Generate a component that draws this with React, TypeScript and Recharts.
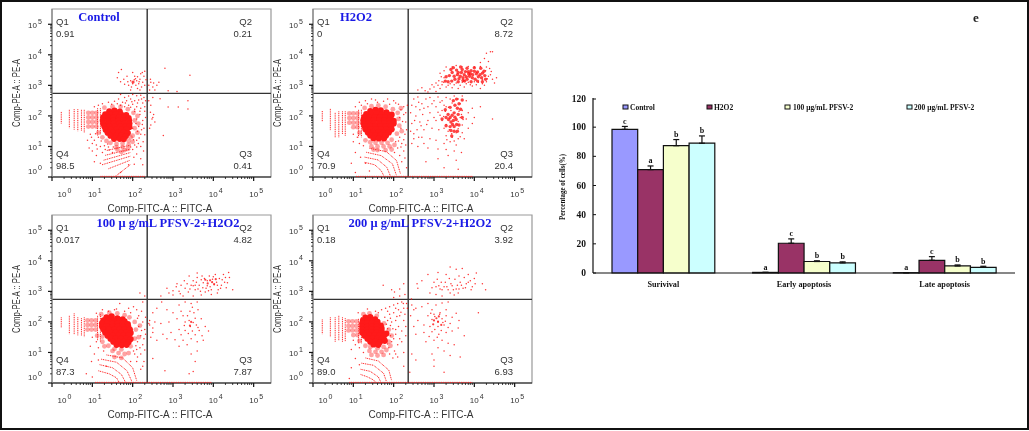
import { BarChart, Bar, ErrorBar, LabelList, XAxis, YAxis, ScatterChart, Scatter, ReferenceLine, ReferenceArea } from 'recharts';

type Pt = [number, number];

// bar chart data
const groups = ['Surivival', 'Early apoptosis', 'Late apoptosis'];
const legendNames = ['Control', 'H2O2', '100 μg/mL PFSV-2', '200 μg/mL PFSV-2'];
const barColors = ['#9999ff', '#993366', '#f6ffcc', '#ccffff'];
const controlValues = [98.5, 0.41, 0.21];
const h2o2Values = [70.9, 20.4, 8.72];
const p100Values = [87.3, 7.87, 4.82];
const p200Values = [89.0, 6.93, 3.92];
const controlErr = [2, 0, 0];
const h2o2Err = [2.5, 3, 2.5];
const p100Err = [4.2, 0.5, 0.7];
const p200Err = [5, 0.7, 0.7];
const controlLetters = ['c', 'a', 'a'];
const h2o2Letters = ['a', 'c', 'c'];
const p100Letters = ['b', 'b', 'b'];
const p200Letters = ['b', 'b', 'b'];
const yTicksBar = [0, 20, 40, 60, 80, 100, 120];

// flow panels, everything in log10 units
const logDecades = [0, 1, 2, 3, 4, 5];
const minorOffsets = [0.3, 0.48, 0.6, 0.7, 0.78, 0.85, 0.9, 0.95];
const gateX = 2.36;
const gateY = 2.74;

const controlCore: Pt[] = [[1.42,2.15],[1.55,2.17],[1.68,2.14],[1.32,2.05],[1.45,2.05],[1.58,2.06],[1.71,2.05],[1.84,2.03],[1.27,1.95],[1.4,1.95],[1.53,1.95],[1.66,1.95],[1.79,1.95],[1.9,1.93],[1.26,1.85],[1.39,1.85],[1.52,1.85],[1.65,1.85],[1.78,1.85],[1.91,1.85],[1.27,1.75],[1.4,1.75],[1.53,1.75],[1.66,1.75],[1.79,1.75],[1.92,1.75],[1.3,1.65],[1.43,1.65],[1.56,1.65],[1.69,1.65],[1.82,1.65],[1.92,1.64],[1.33,1.55],[1.46,1.55],[1.59,1.55],[1.72,1.55],[1.85,1.55],[1.38,1.45],[1.51,1.45],[1.64,1.45],[1.77,1.45],[1.88,1.44],[1.45,1.35],[1.58,1.35],[1.71,1.35],[1.83,1.34],[1.54,1.25],[1.68,1.25],[1.78,1.24]];
const controlHalo: Pt[] = [[0.9,2.1],[1.0,2.1],[1.1,2.1],[0.9,1.95],[1.0,1.95],[1.1,1.95],[0.9,1.8],[1.0,1.8],[1.1,1.8],[0.9,1.65],[1.0,1.65],[1.1,1.65],[1.15,1.45],[1.25,1.3],[1.35,1.18],[1.45,1.12],[1.6,1.08],[1.75,1.1],[1.9,1.18],[2.0,1.35],[2.05,1.6],[2.05,1.85],[2.02,2.1],[1.6,0.98],[1.75,0.98],[1.62,0.9],[1.8,0.88],[1.3,2.27],[1.5,2.3],[1.7,2.3],[1.88,2.22],[1.95,1.3],[2.12,1.45],[2.14,1.75],[2.12,2.0],[1.9,1.05],[2.0,1.15],[1.72,0.82],[1.88,0.92]];
const controlPatch: Pt[] = [[2.01,3.11]];
const controlDots: Pt[] = [[1.62,3.25],[1.65,3.42],[1.7,3.12],[1.78,3.2],[1.8,3.04],[1.86,3.3],[1.9,3.0],[1.95,3.15],[2.0,3.05],[2.04,3.18],[2.05,3.3],[2.08,3.0],[2.1,3.15],[2.12,3.28],[2.15,3.05],[2.18,3.2],[2.2,3.38],[2.22,2.95],[2.25,3.1],[2.28,3.3],[2.3,3.0],[2.12,2.9],[2.18,2.85],[1.95,2.85],[1.72,3.52],[2.0,3.42],[2.3,3.46],[2.33,3.18],[2.16,3.12],[2.07,3.22],[1.97,2.95],[1.88,3.12],[2.24,3.42],
  [2.4,3.0],[2.45,3.1],[2.5,2.95],[2.55,2.85],[2.6,3.0],[2.65,3.1],[2.8,3.56],[3.42,3.33],[2.88,2.82],[3.1,2.8],[2.42,2.85],[2.44,3.2],[2.52,3.08],
  [2.5,1.95],[2.52,2.05],[2.55,1.8],[2.45,1.7],[2.48,1.9],[2.42,1.6],[2.68,2.56],[2.88,2.29],[3.13,2.29],[3.37,2.5],[3.37,2.23],[2.76,1.36],[2.45,2.35],[2.5,2.6],[2.44,2.12],[2.4,2.5],
  [1.7,2.7],[1.8,2.6],[1.9,2.65],[2.0,2.7],[2.1,2.66],[2.2,2.68],[2.28,2.6],[1.75,2.45],[1.85,2.5],[1.95,2.55],[2.05,2.5],[2.15,2.52],[2.25,2.42],[1.8,2.3],[1.9,2.35],[2.0,2.38],[2.1,2.3],[2.2,2.25],[2.3,2.3],[1.4,2.45],[1.55,2.48],[1.7,2.35],[1.65,2.55],[1.82,2.42],[1.98,2.46],[2.12,2.42],[2.22,2.55],[2.32,2.5],[2.3,2.15],[2.18,2.15],[2.05,2.22],[1.95,2.28],[1.62,2.4],[1.48,2.38],[1.25,2.4],[1.15,2.35],[1.05,2.3],
  [2.05,2.15],[2.1,1.9],[2.15,1.65],[2.2,1.4],[2.1,1.2],[2.05,1.05],[2.2,1.0],[2.25,1.85],[2.12,1.5],[2.0,0.9],[2.1,0.75],[2.2,0.6],[2.18,2.05],[2.28,1.6],[2.08,1.75],[2.02,1.22],[2.16,1.28],[2.26,1.15],[2.0,1.6],[2.22,1.55],[2.3,1.38],[2.32,1.95],[2.24,1.72],[2.14,1.1],[1.95,0.98],[2.1,0.98],[2.27,0.85],[2.03,0.65],[2.25,0.4],[2.04,0.42],
  [0.98,1.3],[1.05,1.2],[1.1,1.05],[1.2,1.0],[1.0,0.85],[1.1,0.7],[1.25,0.8],[0.95,1.4],[1.15,1.3],[1.3,1.02],[1.32,0.9],[1.05,0.5],[1.2,0.45],[1.0,1.1],[1.4,0.98],[1.7,0.15],[1.9,0.4],[1.08,1.42],[1.22,1.18],[1.12,0.92],[1.38,1.08],[1.42,0.88],[1.52,0.98],[1.5,0.8],[0.88,1.2],[0.92,0.95]];
const controlTraces: Pt[][] = [
  [[0.23,2.13],[0.23,1.75]],[[0.43,2.2],[0.43,1.6]],[[0.55,2.22],[0.55,1.55]],[[0.64,2.22],[0.64,1.5]],[[0.73,2.2],[0.73,1.5]],[[0.8,2.2],[0.8,1.45]],[[1.13,2.25],[1.13,1.35]],[[1.2,2.25],[1.2,1.4]],
  [[1.36,0.87],[1.94,1.04]],[[1.32,0.71],[1.94,0.91]],[[1.28,0.55],[1.94,0.8]],[[1.24,0.4],[1.94,0.68]],[[1.4,0.27],[1.94,0.55]],[[1.57,0.02],[1.94,0.4]],[[1.2,0.02],[2.3,0.02]],
];

const h2o2Core: Pt[] = [[1.42,2.16],[1.55,2.2],[1.68,2.18],[1.82,2.12],[1.32,2.06],[1.45,2.06],[1.58,2.08],[1.71,2.06],[1.84,2.06],[1.95,2.04],[1.27,1.96],[1.4,1.96],[1.53,1.96],[1.66,1.96],[1.79,1.96],[1.92,1.96],[1.25,1.86],[1.38,1.86],[1.51,1.86],[1.64,1.86],[1.77,1.86],[1.9,1.86],[2.0,1.84],[1.25,1.76],[1.38,1.76],[1.51,1.76],[1.64,1.76],[1.77,1.76],[1.9,1.76],[2.0,1.75],[1.28,1.66],[1.41,1.66],[1.54,1.66],[1.67,1.66],[1.8,1.66],[1.93,1.66],[1.3,1.56],[1.43,1.56],[1.56,1.56],[1.69,1.56],[1.82,1.56],[1.95,1.56],[1.36,1.46],[1.49,1.46],[1.62,1.46],[1.75,1.46],[1.88,1.46],[1.42,1.36],[1.55,1.36],[1.68,1.36],[1.81,1.36],[1.5,1.27],[1.63,1.26],[1.76,1.26]];
const h2o2Halo: Pt[] = [[0.9,2.08],[1.0,2.08],[1.1,2.08],[0.9,1.93],[1.0,1.93],[1.1,1.93],[0.9,1.78],[1.0,1.78],[1.1,1.78],[1.0,1.63],[1.1,1.63],[1.15,1.45],[2.1,2.1],[2.12,1.9],[2.14,1.68],[2.08,1.42],[1.95,1.22],[1.3,1.2],[1.42,1.14],[1.55,1.12],[1.7,1.12],[1.85,1.12],[1.45,1.0],[1.6,1.0],[1.75,1.0],[1.9,1.0],[1.6,0.88],[1.8,0.88],[1.95,0.9],[2.02,1.05],[1.45,2.32],[1.62,2.34],[1.8,2.3],[1.98,2.22],[1.28,2.26],[2.18,2.25],[2.2,1.5],[1.5,0.9]];
const h2o2Patch: Pt[] = [[3.45,3.42],[3.6,3.42],[3.75,3.35],[3.9,3.38],[4.05,3.38],[4.2,3.4],[3.5,3.3],[3.65,3.3],[3.8,3.28],[3.95,3.25],[4.1,3.28],[3.85,3.45],[3.35,3.12],[3.38,3.32],[3.42,3.52],[3.52,3.2],[3.56,3.5],[3.62,3.22],[3.68,3.42],[3.72,3.25],[3.7,3.52],[3.78,3.45],[3.82,3.2],[3.88,3.3],[3.92,3.48],[3.96,3.35],[4.0,3.46],[4.02,3.2],[4.08,3.44],[4.14,3.35],[4.18,3.25],[4.24,3.46],[4.26,3.32],[3.3,3.28],[3.58,3.35],[3.86,3.38],[3.44,3.14],[3.6,3.12],[3.76,3.14],[3.92,3.12],[4.08,3.14],[4.2,3.12],[3.28,3.14],[3.48,3.58],[3.66,3.6],[3.82,3.56],[4.0,3.58],[4.16,3.56],[3.72,3.16],[4.28,3.2],
  [3.5,2.1],[3.4,1.95],[3.55,1.88],[3.42,1.8],[3.5,1.65],[3.58,2.25],[3.35,2.05],[3.45,2.02],[3.52,1.96],[3.48,1.85],[3.36,1.88],[3.6,2.05],[3.46,1.72],[3.56,1.72],[3.4,1.65],[3.62,2.4],[3.52,2.35],[3.48,2.5],[3.3,1.95],[3.5,1.5],[3.28,2.2],[3.4,2.28],[3.66,2.22],[3.7,1.95],[3.62,1.7],[3.3,1.68],[3.2,1.9],[3.42,1.52],[3.58,1.5],[3.44,1.34],[3.56,2.55],[3.7,2.52]];
const h2o2Dots: Pt[] = [[3.3,3.6],[3.45,3.6],[3.55,3.65],[3.7,3.6],[3.85,3.62],[4.0,3.6],[4.15,3.62],[4.3,3.6],[4.42,3.45],[4.35,3.3],[4.45,3.2],[4.3,3.12],[4.2,3.18],[4.1,3.1],[4.0,3.12],[3.85,3.1],[3.7,3.1],[3.55,3.08],[3.4,3.05],[3.25,3.25],[3.2,3.12],[3.1,3.0],[3.0,2.95],[2.9,2.88],[3.15,2.9],[3.3,2.95],[3.45,2.92],[3.6,2.9],[3.75,2.95],[3.95,2.98],[4.15,2.9],[4.25,3.0],[4.5,3.08],[4.55,3.25],[4.38,3.55],[4.3,4.05],[4.4,4.1],[4.45,4.1],[4.25,3.88],[4.35,3.78],[4.15,3.75],[3.15,3.4],[3.25,3.48],[2.78,2.82],[2.85,2.78],[3.05,2.8],[3.12,3.15],[3.05,3.08],[2.95,3.02],[3.2,3.02],[3.35,3.0],[3.5,3.02],[3.65,3.0],[3.8,3.05],[3.9,3.02],[4.05,3.02],[4.2,3.05],[4.32,3.22],[4.4,3.35],[4.28,3.48],[3.18,3.28],[3.24,3.1],[2.7,2.92],[2.6,2.85],
  [2.5,2.55],[2.6,2.62],[2.7,2.4],[2.8,2.55],[2.9,2.6],[3.0,2.5],[3.1,2.62],[3.2,2.5],[3.3,2.6],[3.4,2.55],[3.5,2.65],[3.6,2.55],[3.7,2.65],[3.8,2.5],[3.65,2.4],[3.45,2.42],[3.25,2.35],[3.05,2.3],[2.85,2.3],[2.65,2.2],[2.45,2.35],[2.42,2.1],[2.55,2.0],[2.72,2.05],[2.9,2.1],[3.1,2.12],[3.2,2.18],[3.3,2.3],[3.7,2.18],[3.85,2.1],[3.95,2.25],[4.0,1.95],[3.8,1.9],[3.65,1.95],[3.7,1.7],[3.85,1.6],[3.95,1.75],[3.2,1.85],[3.05,1.85],[2.85,1.85],[2.65,1.8],[2.45,1.75],[2.42,1.5],[2.58,1.55],[2.75,1.55],[2.95,1.6],[3.12,1.55],[3.25,1.6],[3.35,1.5],[3.55,1.45],[3.7,1.45],[3.3,1.35],[3.45,1.3],[3.6,1.25],[3.4,1.15],[3.25,1.1],[3.55,1.05],[2.5,1.25],[2.7,1.3],[2.9,1.25],[3.05,1.2],[2.6,1.0],[2.85,0.95],[3.1,0.92],[3.3,0.9],[3.5,0.85],[3.68,0.8],[3.35,0.7],[3.55,0.55],[3.1,0.6],[2.8,0.5],[3.25,0.3],[3.6,0.25],[4.45,1.9],[4.15,2.3],[3.28,2.15],[3.36,2.28],[3.42,2.18],[3.62,2.15],[3.68,2.05],[3.72,1.88],[3.6,1.82],[3.3,1.72],[3.24,1.98],[3.15,2.02],[3.38,1.55],[3.44,1.42],[3.6,1.58],[3.65,1.32],[3.32,1.22],[3.5,1.18],[3.75,1.25],[2.55,2.3],[2.62,2.45],[2.75,2.25],[2.95,2.4],[3.15,2.45],[2.52,1.85],[2.68,1.68],[2.82,1.72],[3.0,1.95],[2.5,1.42],[2.62,1.3],[2.45,1.1],[2.75,1.1],
  [1.05,2.3],[1.2,2.35],[1.35,2.4],[1.45,2.55],[1.6,2.45],[1.75,2.48],[1.9,2.38],[2.05,2.42],[2.18,2.2],[2.25,2.05],[2.15,1.95],[2.3,1.8],[2.18,1.6],[2.28,1.4],[2.15,1.3],[2.05,1.15],[2.2,1.1],[2.1,0.95],[2.25,0.85],[2.2,0.5],[2.32,0.3],[1.0,1.4],[1.1,1.3],[1.0,1.15],[1.15,1.1],[1.25,1.02],[1.05,0.8],[1.18,0.65],[1.3,0.45],[0.95,0.45],[1.05,0.15],[1.4,0.2],[2.25,2.3],[2.3,2.1],[2.12,2.38],[2.0,2.5],[1.55,2.52],[1.85,2.55],[1.3,2.5],[1.15,2.45],[2.22,1.82],[2.32,1.55],[2.25,1.22],[2.12,1.18],[2.18,0.98],[2.02,0.8],[2.15,0.7],[2.28,0.62],[2.3,1.05],[2.34,2.35]];
const h2o2Traces: Pt[][] = [
  [[0.23,2.16],[0.23,1.8]],[[0.43,2.23],[0.43,1.52]],[[0.55,2.1],[0.55,1.3]],[[0.64,2.15],[0.64,1.3]],[[0.73,2.15],[0.73,1.4]],[[0.8,2.15],[0.8,1.35]],[[1.13,2.2],[1.13,1.3]],[[1.2,2.2],[1.2,1.3]],
  [[1.28,0.48],[1.53,0.4],[1.69,0.21],[1.76,0.03]],[[1.28,0.65],[1.61,0.56],[1.83,0.32],[1.92,0.03]],[[1.32,0.81],[1.69,0.7],[1.97,0.43],[2.07,0.05]],[[1.4,0.94],[1.82,0.83],[2.07,0.54],[2.17,0.1]],[[1.07,0.02],[3.97,0.02]],
];

const p100Core: Pt[] = [[1.35,2.15],[1.48,2.18],[1.62,2.12],[1.75,2.08],[1.28,2.05],[1.41,2.05],[1.54,2.05],[1.67,2.05],[1.8,2.02],[1.24,1.95],[1.37,1.95],[1.5,1.95],[1.63,1.95],[1.76,1.95],[1.88,1.93],[1.24,1.85],[1.37,1.85],[1.5,1.85],[1.63,1.85],[1.76,1.85],[1.89,1.85],[1.28,1.75],[1.41,1.75],[1.54,1.75],[1.67,1.75],[1.8,1.75],[1.93,1.75],[1.32,1.65],[1.45,1.65],[1.58,1.65],[1.71,1.65],[1.84,1.65],[1.95,1.64],[1.38,1.55],[1.51,1.55],[1.64,1.55],[1.77,1.55],[1.9,1.55],[1.45,1.45],[1.58,1.45],[1.71,1.45],[1.84,1.45],[1.95,1.44],[1.52,1.35],[1.65,1.35],[1.78,1.35],[1.9,1.34],[1.6,1.25],[1.73,1.24],[1.85,1.25]];
const p100Halo: Pt[] = [[0.88,2.05],[0.98,2.05],[1.08,2.05],[0.88,1.9],[0.98,1.9],[1.08,1.9],[0.88,1.75],[0.98,1.75],[1.08,1.75],[1.12,1.55],[1.25,1.35],[1.4,1.22],[1.55,1.12],[1.72,1.1],[1.95,1.2],[2.05,1.45],[2.08,1.75],[2.05,2.0],[1.92,2.15],[1.5,1.05],[1.65,0.98],[1.8,0.95],[1.55,0.85],[1.72,0.82],[1.9,0.98],[1.3,1.2],[1.22,2.25],[1.42,2.3],[1.62,2.28],[1.8,2.22],[2.15,1.5],[2.18,1.88],[1.25,1.52]];
const p100Patch: Pt[] = [[3.97,3.3],[3.92,3.36],[4.02,3.24],[3.86,3.26],[4.06,3.4],[3.8,3.38],[3.45,2.0],[3.42,1.88]];
const p100Dots: Pt[] = [[2.9,2.95],[3.0,3.02],[3.08,3.15],[3.2,3.2],[3.3,3.1],[3.38,2.98],[3.45,3.2],[3.5,3.35],[3.55,3.05],[3.6,3.45],[3.65,3.2],[3.72,3.5],[3.75,3.28],[3.8,2.98],[3.85,3.35],[3.9,3.5],[3.92,3.15],[3.98,3.4],[4.02,3.22],[4.05,3.55],[4.08,3.3],[4.12,3.05],[4.15,3.42],[4.2,3.2],[4.25,3.55],[4.28,3.3],[4.32,3.12],[4.38,3.62],[4.4,3.45],[4.1,2.95],[3.95,2.9],[3.7,2.88],[3.5,2.85],[3.25,2.85],[3.0,2.88],[2.7,2.85],[2.3,2.85],[3.4,3.5],[3.6,3.6],[3.15,3.0],[3.35,3.25],[3.55,3.2],[3.7,3.38],[3.85,3.18],[4.48,3.05],[3.42,3.08],[3.5,3.18],[3.58,3.3],[3.62,3.08],[3.68,3.0],[3.74,3.12],[3.78,3.42],[3.82,3.1],[3.88,3.02],[3.95,3.05],[4.0,3.48],[4.1,3.2],[4.18,3.1],[4.22,3.38],[4.3,3.45],[4.35,3.28],[3.28,3.35],[3.18,2.92],[3.1,3.25],[2.85,3.1],
  [2.6,2.45],[2.5,2.3],[2.72,2.65],[2.85,2.4],[3.0,2.3],[3.15,2.55],[3.3,2.65],[3.45,2.6],[3.6,2.65],[3.62,2.4],[3.42,2.35],[3.25,2.2],[3.1,2.1],[2.9,2.0],[2.7,1.95],[2.55,2.0],[3.3,2.0],[3.4,2.05],[3.5,1.98],[3.43,1.85],[3.58,1.9],[3.7,2.1],[3.8,1.85],[3.88,1.7],[3.65,1.72],[3.48,1.7],[3.3,1.72],[3.15,1.75],[2.95,1.65],[2.75,1.6],[2.5,1.65],[2.42,1.9],[2.45,1.5],[2.6,1.4],[2.85,1.45],[3.05,1.42],[3.25,1.4],[3.45,1.45],[3.6,1.35],[3.75,1.4],[3.35,1.25],[3.15,1.2],[3.45,0.95],[3.55,0.7],[2.8,0.4],[2.5,0.8],[3.4,0.3],[3.5,0.38],[3.6,1.05],[3.36,2.2],[3.52,2.3],[3.55,2.12],[3.28,1.88],[3.2,2.35],[3.62,1.82],[3.38,1.62],[3.55,1.58],[3.72,1.55],[3.2,1.58],[3.48,2.48],
  [1.4,2.35],[1.55,2.4],[1.68,2.6],[1.8,2.35],[1.95,2.3],[2.1,2.4],[2.25,2.65],[2.18,2.95],[2.15,2.2],[2.25,2.0],[2.3,1.75],[2.15,1.85],[2.2,1.55],[2.32,1.6],[2.12,1.35],[2.25,1.25],[2.1,1.1],[2.2,0.95],[2.05,0.95],[2.28,0.7],[2.1,0.7],[1.95,0.7],[2.2,0.45],[2.4,1.95],[2.5,1.8],[2.42,2.05],[1.0,1.5],[1.1,1.35],[0.95,1.2],[1.15,1.15],[1.28,1.05],[1.05,0.95],[0.98,0.7],[1.15,0.75],[1.35,0.55],[0.85,0.3],[1.0,0.2],[2.22,2.35],[2.32,2.15],[2.12,2.12],[2.28,1.45],[2.08,1.22],[2.18,1.15],[2.3,1.08],[2.02,1.05],[2.12,0.85],[2.25,0.55],[1.6,2.42],[1.25,2.4],[1.1,2.28],[1.9,2.45],[2.02,2.5],[2.22,1.72]];
const p100Traces: Pt[][] = [
  [[0.23,2.15],[0.23,1.8]],[[0.43,2.2],[0.43,1.6]],[[0.55,2.28],[0.55,1.6]],[[0.64,2.15],[0.64,1.55]],[[0.73,2.12],[0.73,1.55]],[[0.8,2.15],[0.8,1.5]],[[1.13,2.2],[1.13,1.4]],[[1.2,2.25],[1.2,1.35]],
  [[1.15,0.4],[1.42,0.3],[1.6,0.17],[1.66,0.03]],[[1.18,0.6],[1.5,0.5],[1.72,0.28],[1.82,0.03]],[[1.22,0.78],[1.6,0.68],[1.86,0.4],[1.98,0.05]],[[1.35,0.92],[1.75,0.82],[2.0,0.5],[2.1,0.08]],[[1.07,0.02],[3.95,0.02]],
];

const p200Core: Pt[] = [[1.3,2.14],[1.42,2.16],[1.54,2.08],[1.24,2.05],[1.36,2.05],[1.48,2.04],[1.6,2.0],[1.22,1.95],[1.34,1.95],[1.46,1.95],[1.58,1.93],[1.68,1.88],[1.22,1.85],[1.34,1.85],[1.46,1.85],[1.58,1.85],[1.7,1.8],[1.22,1.75],[1.34,1.75],[1.46,1.75],[1.58,1.75],[1.7,1.72],[1.22,1.65],[1.34,1.65],[1.46,1.65],[1.58,1.65],[1.7,1.64],[1.82,1.62],[1.28,1.55],[1.4,1.55],[1.52,1.55],[1.64,1.55],[1.76,1.55],[1.35,1.45],[1.47,1.45],[1.59,1.45],[1.71,1.45],[1.42,1.35],[1.54,1.35],[1.66,1.34],[1.78,1.38],[1.5,1.26],[1.62,1.25]];
const p200Halo: Pt[] = [[0.88,2.02],[0.98,2.02],[1.08,2.02],[0.88,1.87],[0.98,1.87],[1.08,1.87],[0.88,1.72],[0.98,1.72],[1.08,1.72],[1.0,1.57],[1.1,1.57],[1.15,1.38],[1.3,1.22],[1.42,1.18],[1.6,1.14],[1.75,1.18],[1.88,1.35],[1.88,1.75],[1.76,1.95],[1.4,1.05],[1.55,1.02],[1.7,1.02],[1.82,1.08],[1.45,0.92],[1.6,0.9],[1.75,0.92],[1.25,2.25],[1.4,2.28],[1.58,2.2],[1.95,1.55],[1.92,1.22]];
const p200Patch: Pt[] = [[3.06,2.12],[3.0,2.05],[3.12,2.18],[3.1,2.0],[2.98,1.92],[3.18,1.9]];
const p200Dots: Pt[] = [[2.6,3.1],[2.7,3.35],[2.58,3.25],[2.85,3.55],[2.95,3.12],[3.0,3.3],[3.08,3.4],[3.12,3.18],[3.2,3.05],[3.28,3.3],[3.32,3.15],[3.38,3.42],[3.42,3.25],[3.48,3.05],[3.52,3.4],[3.58,3.2],[3.62,3.5],[3.65,3.3],[3.72,3.1],[3.75,3.45],[3.8,3.25],[3.85,3.55],[3.9,3.35],[3.95,3.15],[4.0,3.42],[4.05,3.6],[4.02,3.25],[3.7,3.75],[3.4,3.8],[3.3,3.55],[3.55,3.72],[3.1,3.62],[2.9,2.95],[3.05,2.9],[3.2,2.85],[3.4,2.95],[3.5,2.88],[3.6,2.95],[4.2,3.25],[4.28,3.05],[3.15,3.08],[3.25,3.15],[3.35,3.05],[3.45,3.18],[3.55,3.08],[3.68,3.2],[3.78,3.12],[3.85,3.3],[3.92,3.05],[3.05,3.15],[3.18,3.3],[3.62,3.08],
  [2.45,2.55],[2.55,2.45],[2.7,2.5],[2.85,2.6],[2.95,2.4],[3.05,2.55],[3.2,2.62],[3.35,2.65],[3.3,2.4],[3.15,2.3],[3.0,2.25],[2.85,2.2],[2.95,2.08],[3.1,2.02],[3.2,2.1],[3.3,2.2],[3.45,2.15],[3.55,2.28],[3.62,2.05],[3.4,1.95],[3.25,1.9],[3.1,1.85],[2.9,1.85],[2.75,1.9],[2.6,2.05],[2.5,1.85],[2.42,2.2],[2.55,1.6],[2.75,1.65],[2.95,1.68],[3.12,1.6],[3.3,1.65],[3.45,1.7],[3.6,1.8],[3.75,1.55],[3.2,1.4],[3.0,1.4],[2.8,1.35],[3.35,1.3],[3.5,1.25],[3.1,1.15],[3.25,1.05],[2.95,0.95],[3.0,0.75],[3.4,0.9],[3.65,0.85],[2.45,0.95],[2.55,0.75],[3.0,0.55],[3.25,0.35],[4.1,2.3],[3.02,2.18],[3.14,2.25],[3.22,1.98],[3.02,1.75],[3.18,1.72],[3.35,1.82],[3.28,2.02],[3.08,1.5],[2.88,1.52],[2.92,2.28],
  [1.74,3.2],[1.95,3.05],[2.02,2.98],[2.15,3.08],[2.25,3.25],[2.0,2.8],[2.15,2.85],[2.28,2.9],[2.32,2.6],[2.2,2.65],[2.1,2.6],[2.0,2.55],[1.9,2.5],[1.8,2.45],[1.7,2.4],[1.62,2.3],[2.25,2.45],[2.12,2.4],[2.0,2.3],[1.9,2.25],[1.78,2.15],[2.28,2.25],[2.15,2.2],[2.05,2.05],[1.95,2.0],[1.85,2.05],[2.25,2.05],[2.3,1.85],[2.12,1.85],[1.98,1.78],[2.2,1.7],[2.05,1.6],[1.92,1.55],[2.3,1.55],[2.15,1.45],[1.95,1.35],[2.1,1.25],[1.88,1.15],[2.02,1.05],[2.25,1.0],[1.9,0.95],[2.1,0.85],[2.25,0.55],[1.0,1.4],[1.05,1.25],[0.95,1.1],[1.15,1.15],[1.25,1.0],[1.05,0.8],[0.95,0.5],[1.15,0.6],[0.9,0.15],[2.4,0.35],[2.34,2.45],[2.24,2.6],[2.05,2.45],[1.85,2.35],[2.18,2.32],[2.08,2.18],[1.92,2.12],[1.82,1.92],[1.92,1.88],[1.85,1.78],[2.05,1.75],[1.82,1.45],[2.0,1.45],[1.85,1.28],[2.2,1.35],[2.05,0.95],[1.98,0.82],[1.55,2.35],[1.35,2.42],[1.12,2.3],[2.44,2.75],[2.5,2.4]];
const p200Traces: Pt[][] = [
  [[0.23,2.08],[0.23,1.6]],[[0.43,2.15],[0.43,1.5]],[[0.55,2.15],[0.55,1.35]],[[0.64,2.2],[0.64,1.4]],[[0.73,2.15],[0.73,1.35]],[[0.8,2.12],[0.8,1.35]],[[1.13,2.1],[1.13,1.3]],[[1.2,2.15],[1.2,1.3]],
  [[1.18,0.28],[1.35,0.2],[1.5,0.1],[1.55,0.03]],[[1.18,0.45],[1.42,0.38],[1.62,0.2],[1.68,0.03]],[[1.2,0.65],[1.5,0.58],[1.75,0.32],[1.82,0.05]],[[1.3,0.82],[1.62,0.72],[1.88,0.42],[1.95,0.08]],[[0.9,0.02],[3.95,0.02]],
];

const panelTitles = ['Control', 'H2O2', '100 μ g/mL PFSV-2+H2O2', '200 μ g/mL PFSV-2+H2O2'];
const q1Values = ['0.91', '0', '0.017', '0.18'];
const q2Values = ['0.21', '8.72', '4.82', '3.92'];
const q3Values = ['0.41', '20.4', '7.87', '6.93'];
const q4Values = ['98.5', '70.9', '87.3', '89.0'];

const flowFont = '"Liberation Sans", Arial, sans-serif';
const serifFont = '"Liberation Serif", "Times New Roman", serif';
const textGrey = '#333';

const toPts = (list: Pt[]) => list.map(([x, y]) => ({ x, y }));
const axisTicks = logDecades.flatMap((d) => (d < 5 ? [d, ...minorOffsets.map((m) => d + m)] : [d]));

function FlowXTick({ x, y, payload }: any) {
  const major = Number.isInteger(payload.value);
  const dx = payload.value === 0 ? 10 : 0;
  return (
    <g>
      <line x1={x} x2={x} y1={y} y2={y + (major ? 4 : 2)} stroke="#111" strokeWidth={major ? 1.2 : 0.8} />
      {major && (
        <text fontFamily={flowFont} fill={textGrey}>
          <tspan x={x + dx} y={y + 20} fontSize={8} textAnchor="middle">10</tspan>
          <tspan x={x + dx + 5.5} y={y + 15.5} fontSize={7}>{payload.value}</tspan>
        </text>
      )}
    </g>
  );
}

function FlowYTick({ x, y, payload }: any) {
  const major = Number.isInteger(payload.value);
  const dy = payload.value === 0 ? -6 : 1;
  return (
    <g>
      <line x1={x} x2={x - (major ? 4 : 2)} y1={y} y2={y} stroke="#111" strokeWidth={major ? 1.2 : 0.8} />
      {major && (
        <text fontFamily={flowFont} fill={textGrey}>
          <tspan x={x - 15} y={y + dy + 3} fontSize={8} textAnchor="end">10</tspan>
          <tspan x={x - 14} y={y + dy - 1.5} fontSize={7}>{payload.value}</tspan>
        </text>
      )}
    </g>
  );
}

const dot = (r: number, fill: string, opacity = 1) => (p: any) => (
  <circle cx={p.cx} cy={p.cy} r={r} fill={fill} fillOpacity={opacity} />
);
const noDot = () => <g />;

function FlowPanel({ index, left, top, titleX, core, halo, patch, patchR, dots, traces }: any) {
  return (
    <div style={{ position: 'absolute', left, top, width: 280, height: 215 }}>
      <ScatterChart width={280} height={215} margin={{ top: 9, right: 9, left: 2, bottom: 0 }}>
        <XAxis type="number" dataKey="x" domain={[0, 5.43]} ticks={axisTicks} interval={0} height={38} tick={FlowXTick} tickLine={false} tickSize={0} tickMargin={0} axisLine={{ stroke: '#111', strokeWidth: 1.2 }} />
        <YAxis type="number" dataKey="y" domain={[0, 5.5]} ticks={axisTicks} interval={0} width={50} tick={FlowYTick} tickLine={false} tickSize={0} tickMargin={0} axisLine={{ stroke: '#888', strokeWidth: 1.2 }} />
        <ReferenceArea x1={0} x2={5.43} y1={0} y2={5.5} fill="none" stroke="#999" strokeWidth={1.2} />
        {traces.map((t: Pt[], i: number) => (
          <Scatter key={i} data={toPts(t)} isAnimationActive={false} shape={noDot} line={{ stroke: '#ff1a1a', strokeWidth: 1, strokeDasharray: '1 0.8' }} />
        ))}
        <Scatter data={toPts(halo)} isAnimationActive={false} shape={dot(2.4, '#ff3030', 0.45)} />
        <Scatter data={toPts(dots)} isAnimationActive={false} shape={dot(0.75, '#ff1010', 0.85)} />
        <Scatter data={toPts(patch)} isAnimationActive={false} shape={dot(patchR, '#ff1414', 0.8)} />
        <Scatter data={toPts(core)} isAnimationActive={false} shape={dot(3.1, '#ff1a1a')} />
        <ReferenceLine x={gateX} stroke="#222" strokeWidth={1.3} />
        <ReferenceLine y={gateY} stroke="#333" strokeWidth={1.3} />
      </ScatterChart>
      <svg width={280} height={215} style={{ position: 'absolute', left: 0, top: 0, pointerEvents: 'none' }} fontFamily={flowFont} fontSize={9.5} fill={textGrey}>
        <text x={56} y={25}>Q1</text>
        <text x={56} y={37}>{q1Values[index]}</text>
        <text x={252} y={25} textAnchor="end">Q2</text>
        <text x={252} y={37} textAnchor="end">{q2Values[index]}</text>
        <text x={252} y={157} textAnchor="end">Q3</text>
        <text x={252} y={169} textAnchor="end">{q3Values[index]}</text>
        <text x={56} y={157}>Q4</text>
        <text x={56} y={169}>{q4Values[index]}</text>
        <text x={160} y={212} textAnchor="middle" fontSize={10}>Comp-FITC-A :: FITC-A</text>
        <text transform="translate(20,93) rotate(-90)" textAnchor="middle" fontSize={10} textLength={68} lengthAdjust="spacingAndGlyphs">Comp-PE-A :: PE-A</text>
        <text x={titleX} y={21} textAnchor="middle" fontFamily={serifFont} fontWeight="bold" fontSize={12.5} fill="#1a1ae6">{panelTitles[index]}</text>
      </svg>
    </div>
  );
}

const barRows = groups.map((name, i) => ({
  name,
  control: controlValues[i],
  h2o2: h2o2Values[i],
  p100: p100Values[i],
  p200: p200Values[i],
  controlRange: [0, controlErr[i]],
  h2o2Range: [0, h2o2Err[i]],
  p100Range: [0, p100Err[i]],
  p200Range: [0, p200Err[i]],
}));

const PX_PER_UNIT = 175 / 120;
const letterLabel = (letters: string[], errs: number[]) => (p: any) => (
  <text x={p.x + p.width / 2} y={p.y - errs[p.index] * PX_PER_UNIT - 2.5} textAnchor="middle" fontFamily={serifFont} fontWeight="bold" fontSize={8} fill="#111">
    {letters[p.index]}
  </text>
);

function BarYTick({ x, y, payload }: any) {
  return (
    <g>
      <line x1={x} x2={x + 3} y1={y} y2={y} stroke="#111" />
      <text x={x - 7} y={y + 3} textAnchor="end" fontFamily={serifFont} fontWeight="bold" fontSize={9.5} fill="#111">{payload.value}</text>
    </g>
  );
}

function BarXTick({ x, y, payload }: any) {
  return (
    <text x={x} y={y + 14} textAnchor="middle" fontFamily={serifFont} fontWeight="bold" fontSize={8.2} fill="#111">{payload.value}</text>
  );
}

const barSeries = [
  { key: 'control', errs: controlErr, letters: controlLetters },
  { key: 'h2o2', errs: h2o2Err, letters: h2o2Letters },
  { key: 'p100', errs: p100Err, letters: p100Letters },
  { key: 'p200', errs: p200Err, letters: p200Letters },
];
const legendSwatchX = [73, 157, 235, 357];
const legendTextX = [80, 164, 243, 364];

function SurvivalBars() {
  return (
    <div style={{ position: 'absolute', left: 550, top: 90, width: 470, height: 210 }}>
      <BarChart width={470} height={210} data={barRows} margin={{ top: 8, right: 5, left: 3, bottom: 0 }} barSize={25.7} barGap={0}>
        <XAxis dataKey="name" height={27} interval={0} tick={BarXTick} tickLine={false} tickSize={0} tickMargin={0} axisLine={{ stroke: '#111', strokeWidth: 1.2 }} />
        <YAxis domain={[0, 120]} ticks={yTicksBar} width={40} tick={BarYTick} tickLine={false} tickSize={0} tickMargin={0} axisLine={{ stroke: '#111', strokeWidth: 1.2 }} />
        {barSeries.map((s, i) => (
          <Bar key={s.key} dataKey={s.key} fill={barColors[i]} stroke="#111" strokeWidth={1.2} isAnimationActive={false}>
            <ErrorBar dataKey={`${s.key}Range`} direction="y" width={3} stroke="#111" strokeWidth={1.2} isAnimationActive={false} />
            <LabelList dataKey={s.key} content={letterLabel(s.letters, s.errs) as any} />
          </Bar>
        ))}
      </BarChart>
      <svg width={470} height={210} style={{ position: 'absolute', left: 0, top: 0, pointerEvents: 'none' }} fontFamily={serifFont} fontWeight="bold" fontSize={7.5} fill="#111">
        {legendNames.map((name, i) => (
          <g key={name}>
            <rect x={legendSwatchX[i]} y={15} width={5} height={4} fill={barColors[i]} stroke="#111" strokeWidth={1} />
            <text x={legendTextX[i]} y={19.5}>{name}</text>
          </g>
        ))}
        <text transform="translate(15,97) rotate(-90)" textAnchor="middle" fontSize={8} textLength={66} lengthAdjust="spacingAndGlyphs">Percentage of cells(%)</text>
      </svg>
    </div>
  );
}

export default function App() {
  return (
    <div style={{ position: 'absolute', left: 0, top: 0, width: 1029, height: 430, boxSizing: 'border-box', border: '2px solid #111', background: '#fff', overflow: 'hidden' }}>
      <div style={{ position: 'absolute', left: -2, top: -2, width: 1029, height: 431, filter: 'blur(0.35px)' }}>
        <FlowPanel index={0} left={0} top={0} titleX={99} core={controlCore} halo={controlHalo} patch={controlPatch} patchR={1.6} dots={controlDots} traces={controlTraces} />
        <FlowPanel index={1} left={261} top={0} titleX={95} core={h2o2Core} halo={h2o2Halo} patch={h2o2Patch} patchR={1.7} dots={h2o2Dots} traces={h2o2Traces} />
        <FlowPanel index={2} left={0} top={206} titleX={168} core={p100Core} halo={p100Halo} patch={p100Patch} patchR={1.1} dots={p100Dots} traces={p100Traces} />
        <FlowPanel index={3} left={261} top={206} titleX={159} core={p200Core} halo={p200Halo} patch={p200Patch} patchR={1.1} dots={p200Dots} traces={p200Traces} />
        <SurvivalBars />
        <div style={{ position: 'absolute', left: 973, top: 10, fontFamily: serifFont, fontWeight: 'bold', fontSize: 13, color: '#222' }}>e</div>
      </div>
    </div>
  );
}
